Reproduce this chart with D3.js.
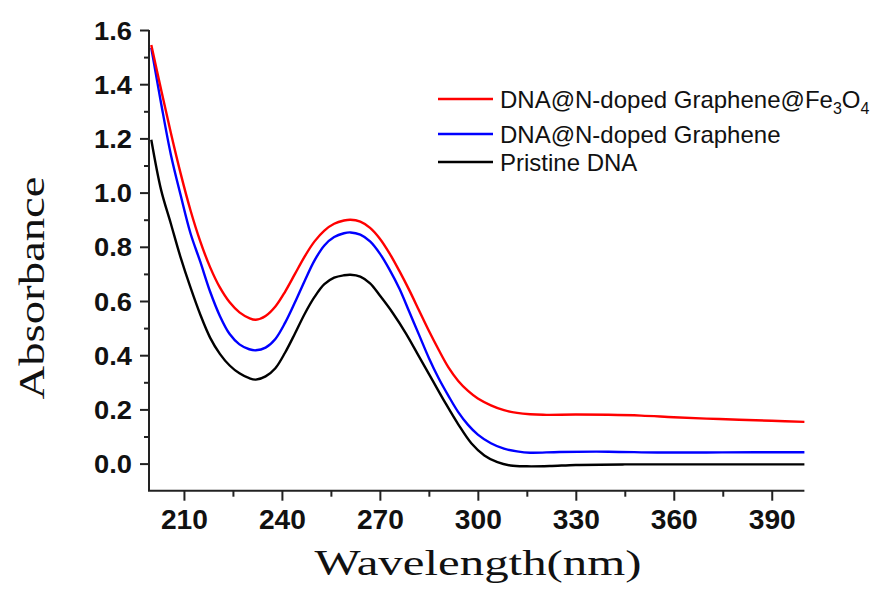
<!DOCTYPE html>
<html>
<head>
<meta charset="utf-8">
<script src="https://cdn.jsdelivr.net/npm/d3@7"></script>
<style>
  html, body { margin: 0; padding: 0; background: #fff; }
  svg { display: block; }
</style>
</head>
<body>
<svg id="chart" width="871" height="592"></svg>
<script>
// ---------- DATA ----------
const seriesNames = ["DNA@N-doped Graphene@Fe3O4", "DNA@N-doped Graphene", "Pristine DNA"];
const seriesColors = ["#ff0000", "#0000ff", "#000000"];

const redWl =  [200, 203, 206, 209, 212, 215, 218, 221, 224, 227, 230, 232, 235, 238, 241, 244, 247, 250, 253, 256, 259, 261, 264, 267, 270, 273, 276, 279, 282, 285, 288, 291, 294, 297, 300, 304, 308, 312, 316, 320, 330, 340, 350, 360, 370, 380, 390, 400];
const redAbs = [1.545, 1.38, 1.22, 1.07, 0.935, 0.82, 0.725, 0.65, 0.595, 0.558, 0.537, 0.531, 0.545, 0.58, 0.635, 0.70, 0.765, 0.82, 0.86, 0.885, 0.897, 0.900, 0.893, 0.87, 0.83, 0.775, 0.71, 0.64, 0.565, 0.49, 0.42, 0.355, 0.305, 0.268, 0.24, 0.215, 0.197, 0.187, 0.182, 0.180, 0.181, 0.180, 0.177, 0.171, 0.166, 0.162, 0.158, 0.154];

const blueWl =  [200, 203, 206, 209, 212, 215, 218, 221, 224, 227, 230, 232, 235, 238, 241, 244, 247, 250, 253, 256, 259, 261, 264, 267, 270, 273, 276, 279, 282, 285, 288, 291, 294, 297, 300, 304, 308, 312, 316, 325, 340, 355, 370, 385, 400];
const blueAbs = [1.534, 1.33, 1.14, 0.99, 0.85, 0.745, 0.635, 0.545, 0.478, 0.44, 0.422, 0.418, 0.428, 0.46, 0.52, 0.595, 0.675, 0.75, 0.805, 0.836, 0.85, 0.853, 0.845, 0.82, 0.775, 0.715, 0.645, 0.56, 0.475, 0.39, 0.315, 0.25, 0.19, 0.143, 0.107, 0.075, 0.055, 0.045, 0.040, 0.043, 0.044, 0.041, 0.041, 0.042, 0.042];

const blackWl =  [200, 203, 206, 209, 212, 215, 218, 221, 224, 227, 230, 232, 235, 238, 241, 244, 247, 250, 253, 256, 259, 261, 264, 267, 270, 274, 278, 282, 286, 290, 294, 298, 302, 306, 310, 315, 322, 330, 345, 360, 380, 400];
const blackAbs = [1.195, 1.01, 0.885, 0.76, 0.65, 0.55, 0.465, 0.405, 0.362, 0.333, 0.315, 0.31, 0.322, 0.352, 0.41, 0.48, 0.553, 0.615, 0.662, 0.686, 0.695, 0.697, 0.69, 0.665, 0.62, 0.555, 0.48, 0.395, 0.31, 0.225, 0.145, 0.075, 0.03, 0.005, -0.007, -0.01, -0.009, -0.005, -0.003, -0.003, -0.003, -0.003];

const xMajorTicks = [210, 240, 270, 300, 330, 360, 390];
const xMinorTicks = [225, 255, 285, 315, 345, 375];
const yMajorTicks = [0.0, 0.2, 0.4, 0.6, 0.8, 1.0, 1.2, 1.4, 1.6];
const yMinorTicks = [0.1, 0.3, 0.5, 0.7, 0.9, 1.1, 1.3, 1.5];

const xTitle = "Wavelength(nm)";
const yTitle = "Absorbance";

// ---------- CHART ----------
const svg = d3.select("#chart");
const x = d3.scaleLinear().domain([199.3, 400]).range([149, 804.4]);
const y = d3.scaleLinear().domain([-0.1, 1.6]).range([490.7, 30]);

const axisColor = "#222";

// Y axis
const yMajor = d3.axisLeft(y).tickValues(yMajorTicks).tickSize(9).tickPadding(8).tickFormat(d3.format(".1f"));
const yMinor = d3.axisLeft(y).tickValues(yMinorTicks).tickSize(5).tickFormat("");
const gy = svg.append("g").attr("transform", "translate(149,0)").call(yMajor);
svg.append("g").attr("transform", "translate(149,0)").call(yMinor).select(".domain").remove();
gy.select(".domain").attr("d", `M0,${y(1.6)}V${y(-0.1)}`);

// X axis
const xMajor = d3.axisBottom(x).tickValues(xMajorTicks).tickSize(10).tickPadding(9);
const xMinor = d3.axisBottom(x).tickValues(xMinorTicks).tickSize(6).tickFormat("");
const gx = svg.append("g").attr("transform", "translate(0,490.7)").call(xMajor);
svg.append("g").attr("transform", "translate(0,490.7)").call(xMinor).select(".domain").remove();
gx.select(".domain").attr("d", `M${x(199.3) - 1},0H${x(400)}`);

svg.selectAll(".domain, .tick line").attr("stroke", axisColor).attr("stroke-width", 2);

gy.selectAll(".tick text")
  .attr("fill", "#111")
  .style("font-family", "Arial, 'Liberation Sans', sans-serif")
  .style("font-weight", "bold")
  .style("font-size", "25px")
  .attr("dy", "0.36em")
  .attr("textLength", 38)
  .attr("lengthAdjust", "spacingAndGlyphs");

gx.selectAll(".tick text")
  .attr("fill", "#111")
  .style("font-family", "Arial, 'Liberation Sans', sans-serif")
  .style("font-weight", "bold")
  .style("font-size", "27px")
  .attr("dy", "0.71em")
  .attr("textLength", 47)
  .attr("lengthAdjust", "spacingAndGlyphs");

// Curves
const line = d3.line().x(d => x(d[0])).y(d => y(d[1])).curve(d3.curveCatmullRom.alpha(0.5));
const seriesData = [
  d3.zip(redWl, redAbs),
  d3.zip(blueWl, blueAbs),
  d3.zip(blackWl, blackAbs)
];
[2, 1, 0].forEach(i => {
  svg.append("path")
    .datum(seriesData[i])
    .attr("fill", "none")
    .attr("stroke", seriesColors[i])
    .attr("stroke-width", 2.4)
    .attr("stroke-linejoin", "round")
    .attr("d", line);
});

// Axis titles
svg.append("text")
  .attr("transform", "translate(43.5,288) rotate(-90)")
  .attr("text-anchor", "middle")
  .style("font-family", "'Times New Roman', 'Liberation Serif', serif")
  .style("font-size", "35px")
  .attr("fill", "#111")
  .attr("textLength", 223)
  .attr("lengthAdjust", "spacingAndGlyphs")
  .text(yTitle);

svg.append("text")
  .attr("x", 478)
  .attr("y", 575)
  .attr("text-anchor", "middle")
  .style("font-family", "'Times New Roman', 'Liberation Serif', serif")
  .style("font-size", "36px")
  .attr("fill", "#111")
  .attr("textLength", 327)
  .attr("lengthAdjust", "spacingAndGlyphs")
  .text(xTitle);

// Legend
const legendY = [99, 134, 162];
const legend = svg.append("g");
seriesNames.forEach((name, i) => {
  legend.append("line")
    .attr("x1", 438).attr("x2", 493)
    .attr("y1", legendY[i]).attr("y2", legendY[i])
    .attr("stroke", seriesColors[i]).attr("stroke-width", 2.4);
  const t = legend.append("text")
    .attr("x", 500).attr("y", legendY[i] + 8.5)
    .style("font-family", "Arial, 'Liberation Sans', sans-serif")
    .style("font-size", "24px")
    .attr("fill", "#111");
  const m = name.match(/^(.*Fe)3O4$/);
  if (m) {
    t.append("tspan").text(m[1]);
    t.append("tspan").attr("dy", 6).style("font-size", "16px").text("3");
    t.append("tspan").attr("dy", -6).text("O");
    t.append("tspan").attr("dy", 6).style("font-size", "16px").text("4");
  } else {
    t.text(name);
  }
});
</script>
</body>
</html>
